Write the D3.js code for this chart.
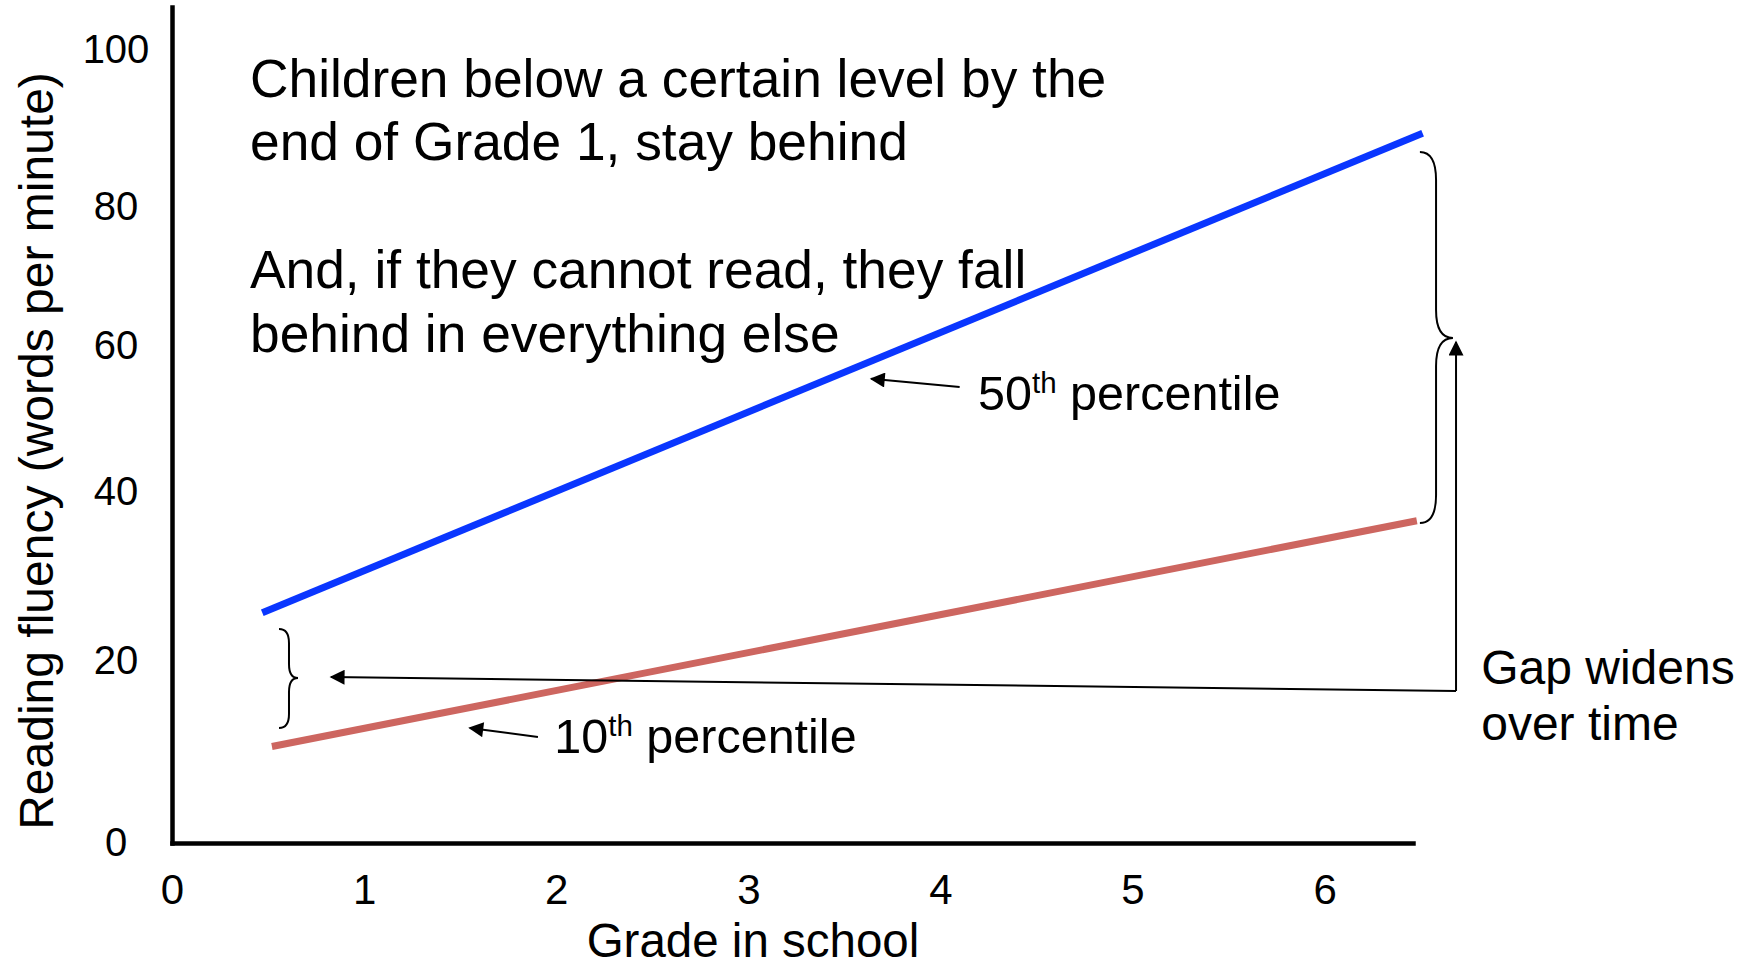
<!DOCTYPE html>
<html>
<head>
<meta charset="utf-8">
<script src="https://cdn.jsdelivr.net/npm/d3@7"></script>
<style>
  body { margin: 0; background: #fff; }
  text { font-family: 'Liberation Sans', Arial, sans-serif; fill: #000; }
</style>
</head>
<body>
<div id="wrapper"></div>
<script>
// data
const xTicks = [0, 1, 2, 3, 4, 5, 6]
const yTicks = [0, 20, 40, 60, 80, 100]

const p50Grades = [0.47, 6.51]
const p50Wpm = [25.7, 89.4]
const p10Grades = [0.52, 6.48]
const p10Wpm = [10.6, 36.6]

const noteLines = [
  'Children below a certain level by the',
  'end of Grade 1, stay behind',
  'And, if they cannot read, they fall',
  'behind in everything else'
]

function drawChart() {
  const width = 1752
  const height = 967

  const svg = d3.select('#wrapper')
    .append('svg')
      .attr('width', width)
      .attr('height', height)

  // scales (the y labels on the original are not evenly spaced)
  const x = d3.scaleLinear()
    .domain([0, 6.46])
    .range([172, 1413])

  const y = d3.scaleLinear()
    .domain([0, 20, 40, 60, 80, 100, 105.5])
    .range([843, 661, 492, 346, 207, 50, 7])

  const defs = svg.append('defs')
  defs.append('marker')
      .attr('id', 'head')
      .attr('viewBox', '0 0 10 10')
      .attr('refX', 9)
      .attr('refY', 5)
      .attr('markerUnits', 'userSpaceOnUse')
      .attr('markerWidth', 16)
      .attr('markerHeight', 15)
      .attr('orient', 'auto')
    .append('path')
      .attr('d', 'M0,0L10,5L0,10Z')
      .attr('fill', '#000')

  //axes
  const xAxis = svg.append('g')
    .attr('transform', `translate(0,${y(0)})`)
    .call(d3.axisBottom(x)
      .tickValues(xTicks)
      .tickSize(0)
      .tickSizeOuter(0)
      .tickPadding(31)
      .tickFormat(d3.format('d')))
  xAxis.selectAll('text')
    .style('font-size', '42px')

  const yAxis = svg.append('g')
    .attr('transform', `translate(${x(0)},0)`)
    .call(d3.axisLeft(y)
      .tickValues(yTicks)
      .tickSize(0)
      .tickSizeOuter(0))
  yAxis.selectAll('text')
    .attr('x', -56)
    .attr('text-anchor', 'middle')
    .style('font-size', '40px')

  svg.selectAll('.domain')
    .attr('stroke', '#000')
    .attr('stroke-width', 4.5)
    .attr('stroke-linecap', 'square')

  // axis titles
  svg.append('text')
    .attr('x', 753)
    .attr('y', 957)
    .attr('text-anchor', 'middle')
    .style('font-size', '47.5px')
    .text('Grade in school')

  svg.append('text')
    .attr('transform', 'translate(53,451) rotate(-90)')
    .attr('text-anchor', 'middle')
    .style('font-size', '48px')
    .text('Reading fluency (words per minute)')

  //lines
  const line = d3.line()
    .x(d => x(d.grade))
    .y(d => y(d.wpm))

  const series = [
    { name: '50th', color: '#0a36ff', values: p50Grades.map((g, i) => ({ grade: g, wpm: p50Wpm[i] })) },
    { name: '10th', color: '#cd6660', values: p10Grades.map((g, i) => ({ grade: g, wpm: p10Wpm[i] })) }
  ]

  svg.selectAll('.series')
    .data(series)
    .enter().append('path')
      .attr('class', 'series')
      .attr('d', d => line(d.values))
      .attr('fill', 'none')
      .attr('stroke', d => d.color)
      .attr('stroke-width', 7)

  // text block
  const note = svg.append('text')
    .attr('x', 250)
    .style('font-size', '53.3px')
  note.selectAll('tspan')
    .data(noteLines)
    .enter().append('tspan')
      .attr('x', 250)
      .attr('y', (d, i) => [97, 160, 288, 352][i])
      .text(d => d)

  // arrows
  const arrow = (a, b) => svg.append('path')
    .attr('d', `M${x(a[0])},${y(a[1])}L${x(b[0])},${y(b[1])}`)
    .attr('stroke', '#000')
    .attr('stroke-width', 2)
    .attr('fill', 'none')
    .attr('marker-end', 'url(#head)')

  arrow([4.10, 54.4], [3.64, 55.5])
  arrow([1.905, 11.65], [1.55, 12.64])
  arrow([6.684, 16.7], [0.828, 18.24])
  arrow([6.684, 16.7], [6.684, 60.58])

  // percentile labels
  const pctLabel = (g, w, num) => {
    const t = svg.append('text')
      .attr('x', x(g))
      .attr('y', y(w))
      .style('font-size', '48.5px')
    t.append('tspan').text(num)
    t.append('tspan').attr('dy', -17).style('font-size', '29.5px').text('th')
    t.append('tspan').attr('dy', 17).text(' percentile')
  }
  pctLabel(4.196, 51.2, '50')
  pctLabel(1.99, 9.9, '10')

  const gap = svg.append('text')
    .attr('x', x(6.815))
    .attr('y', y(17.47))
    .style('font-size', '48px')
  gap.append('tspan').text('Gap widens')
  gap.append('tspan').attr('x', x(6.815)).attr('dy', 56).text('over time')

  // braces
  const brace = (g0, gm, gt, wTop, wTip, wBot, r) => {
    const x0 = x(g0), xm = x(gm), xt = x(gt)
    const yT = y(wTop), yM = y(wTip), yB = y(wBot)
    const p = d3.path()
    p.moveTo(x0, yT)
    p.quadraticCurveTo(xm, yT, xm, yT + r)
    p.lineTo(xm, yM - r)
    p.quadraticCurveTo(xm, yM, xt, yM)
    p.quadraticCurveTo(xm, yM, xm, yM + r)
    p.lineTo(xm, yB - r)
    p.quadraticCurveTo(xm, yB, x0, yB)
    svg.append('path')
      .attr('d', p.toString())
      .attr('fill', 'none')
      .attr('stroke', '#000')
      .attr('stroke-width', 2)
  }
  brace(6.496, 6.58, 6.668, 87.0, 61.15, 36.33, 28)
  brace(0.557, 0.609, 0.656, 23.79, 18.13, 12.64, 14)
}

drawChart()
</script>
</body>
</html>
